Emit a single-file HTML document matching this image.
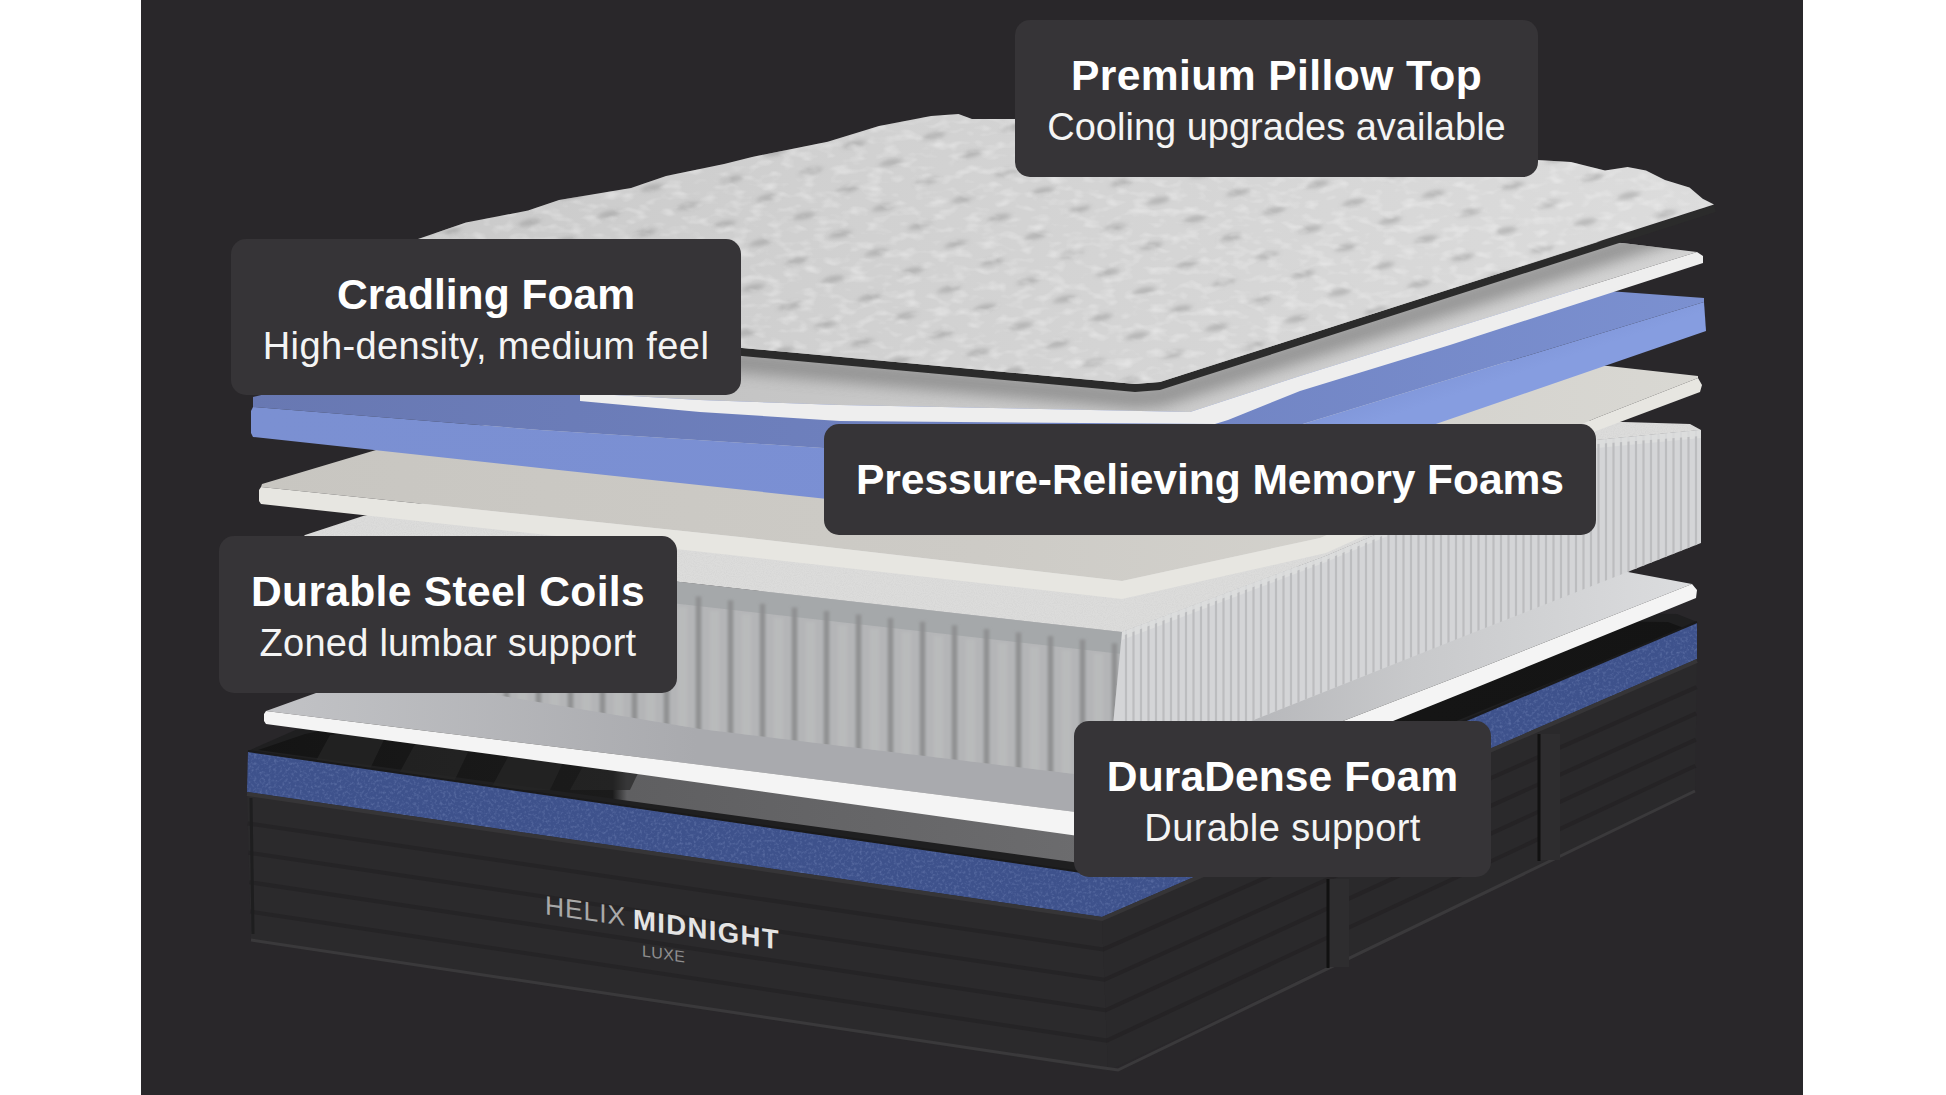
<!DOCTYPE html>
<html><head><meta charset="utf-8"><style>
html,body{margin:0;padding:0;background:#ffffff;width:1946px;height:1095px;overflow:hidden}
#panel{position:absolute;left:141px;top:0;width:1662px;height:1095px;background:#29272a}
svg{position:absolute;left:0;top:0}
</style></head><body>
<div id="panel"></div>
<svg width="1946" height="1095" viewBox="0 0 1946 1095">

<defs>
 <linearGradient id="gPillow" gradientUnits="userSpaceOnUse" x1="300" y1="250" x2="1714" y2="250">
  <stop offset="0" stop-color="#c8c8c8"/><stop offset="0.35" stop-color="#d0d0d0"/><stop offset="1" stop-color="#dcdcdc"/>
 </linearGradient>
 <pattern id="pTuft" patternUnits="userSpaceOnUse" width="80" height="44" patternTransform="rotate(-6) skewX(-15)">
  <g filter="url(#fBlur)"><path d="M4 14 Q17 6 30 12 Q20 19 4 14Z" fill="#8e8e8e" opacity="0.45"/>
  <path d="M44 36 Q57 28 70 34 Q60 41 44 36Z" fill="#8e8e8e" opacity="0.45"/></g>
 </pattern>
 <linearGradient id="gL2top" gradientUnits="userSpaceOnUse" x1="0" y1="0" x2="0" y2="1">
  <stop offset="0" stop-color="#999"/><stop offset="1" stop-color="#bbb"/>
 </linearGradient>
 <linearGradient id="gL2t" gradientUnits="userSpaceOnUse" x1="700" y1="0" x2="1700" y2="0">
  <stop offset="0" stop-color="#c4c4c4"/><stop offset="0.5" stop-color="#cdcdcd"/><stop offset="1" stop-color="#d4d4d4"/>
 </linearGradient>
 <linearGradient id="gCream" gradientUnits="userSpaceOnUse" x1="260" y1="0" x2="1700" y2="0">
  <stop offset="0" stop-color="#c8c6c1"/><stop offset="0.5" stop-color="#cdcbc6"/><stop offset="1" stop-color="#d9d8d3"/>
 </linearGradient>
 <linearGradient id="gBlueTop" gradientUnits="userSpaceOnUse" x1="250" y1="0" x2="1700" y2="0">
  <stop offset="0" stop-color="#6878b2"/><stop offset="0.6" stop-color="#7083c2"/><stop offset="1" stop-color="#7b90d0"/>
 </linearGradient>
 <linearGradient id="gBlueFL" gradientUnits="userSpaceOnUse" x1="250" y1="0" x2="1125" y2="0">
  <stop offset="0" stop-color="#7b90d2"/><stop offset="1" stop-color="#7a8fd4"/>
 </linearGradient>
 <linearGradient id="gBlueFR" gradientUnits="userSpaceOnUse" x1="1300" y1="380" x2="1320" y2="440">
  <stop offset="0" stop-color="#788dcf"/><stop offset="1" stop-color="#869de0"/>
 </linearGradient>
 <linearGradient id="gW6top" gradientUnits="userSpaceOnUse" x1="266" y1="0" x2="1700" y2="0">
  <stop offset="0" stop-color="#c2c3c6"/><stop offset="0.3" stop-color="#a9aaae"/><stop offset="0.6" stop-color="#a9aaae"/><stop offset="0.8" stop-color="#c8c9cb"/><stop offset="1" stop-color="#dcdddf"/>
 </linearGradient>
 <linearGradient id="gInterior" gradientUnits="userSpaceOnUse" x1="250" y1="0" x2="1700" y2="0">
  <stop offset="0" stop-color="#141414"/><stop offset="0.25" stop-color="#1b1b1b"/><stop offset="0.26" stop-color="#5f5f61"/><stop offset="0.58" stop-color="#6c6c6e"/><stop offset="0.62" stop-color="#161616"/><stop offset="1" stop-color="#141414"/>
 </linearGradient>
 <linearGradient id="gCoilFL" gradientUnits="userSpaceOnUse" x1="0" y1="560" x2="0" y2="760">
  <stop offset="0" stop-color="#cdcecf"/><stop offset="1" stop-color="#c3c4c6"/>
 </linearGradient>
 <filter id="fBlur" x="-50%" y="-50%" width="200%" height="200%"><feGaussianBlur stdDeviation="2.2"/></filter>
 <filter id="fBlur1" x="-50%" y="-10%" width="200%" height="120%"><feGaussianBlur stdDeviation="1.5"/></filter>
 <filter id="fBlur6" x="-20%" y="-50%" width="140%" height="200%"><feGaussianBlur stdDeviation="7"/></filter>
 <filter id="fMottle" x="0" y="0" width="100%" height="100%">
  <feTurbulence type="fractalNoise" baseFrequency="0.06 0.12" numOctaves="2" seed="8"/>
  <feColorMatrix values="0 0 0 0 1  0 0 0 0 1  0 0 0 0 1  0 0 0 2.5 -1.2"/>
  <feComposite in2="SourceGraphic" operator="in"/>
 </filter>
 <filter id="fNoise2" x="0" y="0" width="100%" height="100%">
  <feTurbulence type="fractalNoise" baseFrequency="0.35" numOctaves="2" seed="5"/>
  <feColorMatrix values="0 0 0 0 0.5  0 0 0 0 0.6  0 0 0 0 0.9  0 0 0 1.6 -0.75"/>
  <feComposite in2="SourceGraphic" operator="in"/>
 </filter>
 <filter id="fNoise" x="0" y="0" width="100%" height="100%">
  <feTurbulence type="fractalNoise" baseFrequency="0.9" numOctaves="2" seed="3"/>
  <feColorMatrix values="0 0 0 0 0.5  0 0 0 0 0.5  0 0 0 0 0.5  0 0 0 1.2 -0.45"/>
  <feComposite in2="SourceGraphic" operator="in"/>
 </filter>
</defs>

<polygon points="248.0,751.0 300.0,728.0 900.0,600.0 1677.0,614.0 1697.0,622.0 1102.0,875.0" fill="#1f1f20"/>
<polygon points="258.0,750.0 305.0,734.0 900.0,612.0 1668.0,622.0 1684.0,628.0 1102.0,866.0" fill="url(#gInterior)"/>
<polygon points="330.0,735.0 390.0,727.0 360.0,790.0 300.0,790.0" fill="#262627" opacity="0.7"/>
<polygon points="420.0,735.0 480.0,727.0 450.0,790.0 390.0,790.0" fill="#262627" opacity="0.7"/>
<polygon points="520.0,735.0 580.0,727.0 550.0,790.0 490.0,790.0" fill="#262627" opacity="0.7"/>
<polygon points="600.0,735.0 660.0,727.0 630.0,790.0 570.0,790.0" fill="#262627" opacity="0.7"/>
<polygon points="248.0,751.0 1102.0,875.0 1697.0,622.0 1697.0,659.0 1102.0,917.0 247.0,792.0" fill="#3e528c"/>
<polygon points="248.0,751.0 1102.0,875.0 1697.0,622.0 1697.0,659.0 1102.0,917.0 247.0,792.0" fill="#6a7fc0" filter="url(#fNoise2)" opacity="0.32"/>
<polyline points="248.0,751.0 1102.0,875.0 1697.0,622.0" fill="none" stroke="#1a1a1b" stroke-width="2"/>
<polygon points="247.0,794.0 1102.0,919.0 1108.0,1071.0 251.0,941.0" fill="#2b2a2c"/>
<polygon points="1102.0,919.0 1697.0,661.0 1695.0,792.0 1108.0,1071.0" fill="#2a292b"/>
<polyline points="247.8,823.4 1103.2,949.4 1696.6,687.2" fill="none" stroke="#1f1e20" stroke-width="4" opacity="0.5"/>
<polyline points="248.6,852.8 1104.4,979.8 1696.2,713.4" fill="none" stroke="#1f1e20" stroke-width="4" opacity="0.5"/>
<polyline points="249.4,882.2 1105.6,1010.2 1695.8,739.6" fill="none" stroke="#1f1e20" stroke-width="4" opacity="0.5"/>
<polyline points="250.2,911.6 1106.8,1040.6 1695.4,765.8" fill="none" stroke="#1f1e20" stroke-width="4" opacity="0.5"/>
<polyline points="247.0,794.0 1102.0,919.0 1697.0,661.0" fill="none" stroke="#363537" stroke-width="4"/>
<polyline points="251.0,798.0 253.0,934.0" fill="none" stroke="#1e1e1f" stroke-width="3"/>
<polyline points="251.0,940.0 1090.0,1066.0 1118.0,1070.0 1695.0,791.0" fill="none" stroke="#3a393b" stroke-width="3"/>
<rect x="1329" y="879" width="20" height="88" fill="#2e2d2f"/><line x1="1328" y1="879" x2="1328" y2="968" stroke="#111" stroke-width="3"/>
<rect x="1540" y="734" width="20" height="126" fill="#2e2d2f"/><line x1="1539" y1="734" x2="1539" y2="861" stroke="#111" stroke-width="3"/>
<g transform="translate(544,914) skewY(8.25)" font-family="Liberation Sans, sans-serif"><text x="1" y="0" font-size="26.5" letter-spacing="0.9" fill="#a9a9a9">HELIX</text><text x="89" y="1.5" font-size="27.5" font-weight="bold" letter-spacing="1.4" fill="#e4e4e4">MIDNIGHT</text><text x="98" y="28" font-size="16" letter-spacing="0.4" fill="#8f8f8f">LUXE</text></g>
<polygon points="266.0,711.0 316.0,693.0 900.0,560.0 1628.0,572.0 1692.0,584.0 1692.0,584.0 1480.0,668.0 1100.0,815.0 630.0,756.0 266.0,711.0" fill="url(#gW6top)"/>
<polygon points="266.0,711.0 630.0,756.0 1100.0,815.0 1480.0,668.0 1692.0,584.0 1697.0,590.0 1696.0,598.0 1480.0,686.0 1100.0,839.0 630.0,773.0 266.0,724.0 264.0,721.0 264.0,714.0" fill="#f4f4f4"/>
<polygon points="305.0,535.0 363.0,516.0 900.0,400.0 1690.0,424.0 1701.0,430.0 1597.0,440.0 1326.0,556.0 1122.0,632.0 680.0,582.0 300.0,540.0" fill="#dcdcdb"/>
<clipPath id="cCoilTop"><polygon points="305.0,535.0 363.0,516.0 900.0,400.0 1690.0,424.0 1701.0,430.0 1597.0,440.0 1326.0,556.0 1122.0,632.0 680.0,582.0 300.0,540.0"/></clipPath>
<polygon points="305.0,535.0 363.0,516.0 900.0,400.0 1690.0,424.0 1701.0,430.0 1597.0,440.0 1326.0,556.0 1122.0,632.0 680.0,582.0 300.0,540.0" fill="#888" filter="url(#fNoise)" opacity="0.35"/>
<polygon points="300.0,540.0 680.0,582.0 1122.0,632.0 1108.0,778.0 700.0,729.0 472.0,691.0 300.0,668.0" fill="#b4b5b7"/>
<clipPath id="cCoilFL"><polygon points="300.0,540.0 680.0,582.0 1122.0,632.0 1108.0,778.0 700.0,729.0 472.0,691.0 300.0,668.0"/></clipPath><g clip-path="url(#cCoilFL)">
<polygon points="300.0,540.0 680.0,582.0 1122.0,632.0 1122.0,654.0 680.0,604.0 300.0,562.0" fill="#a5a8aa"/>
<g filter="url(#fBlur1)">
<line x1="250.5" y1="546.5" x2="250.5" y2="800" stroke="#8f9092" stroke-width="5.5"/>
<line x1="266.5" y1="560.5" x2="266.5" y2="800" stroke="#bdbebf" stroke-width="10" opacity="0.6"/>
<line x1="282.5" y1="550.0" x2="282.5" y2="800" stroke="#8f9092" stroke-width="5.5"/>
<line x1="298.5" y1="564.0" x2="298.5" y2="800" stroke="#bdbebf" stroke-width="10" opacity="0.6"/>
<line x1="314.5" y1="553.6" x2="314.5" y2="800" stroke="#8f9092" stroke-width="5.5"/>
<line x1="330.5" y1="567.6" x2="330.5" y2="800" stroke="#bdbebf" stroke-width="10" opacity="0.6"/>
<line x1="346.5" y1="557.2" x2="346.5" y2="800" stroke="#8f9092" stroke-width="5.5"/>
<line x1="362.5" y1="571.2" x2="362.5" y2="800" stroke="#bdbebf" stroke-width="10" opacity="0.6"/>
<line x1="378.5" y1="560.8" x2="378.5" y2="800" stroke="#8f9092" stroke-width="5.5"/>
<line x1="394.5" y1="574.8" x2="394.5" y2="800" stroke="#bdbebf" stroke-width="10" opacity="0.6"/>
<line x1="410.5" y1="564.4" x2="410.5" y2="800" stroke="#8f9092" stroke-width="5.5"/>
<line x1="426.5" y1="578.4" x2="426.5" y2="800" stroke="#bdbebf" stroke-width="10" opacity="0.6"/>
<line x1="442.5" y1="568.0" x2="442.5" y2="800" stroke="#8f9092" stroke-width="5.5"/>
<line x1="458.5" y1="582.0" x2="458.5" y2="800" stroke="#bdbebf" stroke-width="10" opacity="0.6"/>
<line x1="474.5" y1="571.5" x2="474.5" y2="800" stroke="#8f9092" stroke-width="5.5"/>
<line x1="490.5" y1="585.5" x2="490.5" y2="800" stroke="#bdbebf" stroke-width="10" opacity="0.6"/>
<line x1="506.5" y1="575.1" x2="506.5" y2="800" stroke="#8f9092" stroke-width="5.5"/>
<line x1="522.5" y1="589.1" x2="522.5" y2="800" stroke="#bdbebf" stroke-width="10" opacity="0.6"/>
<line x1="538.5" y1="578.7" x2="538.5" y2="800" stroke="#8f9092" stroke-width="5.5"/>
<line x1="554.5" y1="592.7" x2="554.5" y2="800" stroke="#bdbebf" stroke-width="10" opacity="0.6"/>
<line x1="570.5" y1="582.3" x2="570.5" y2="800" stroke="#8f9092" stroke-width="5.5"/>
<line x1="586.5" y1="596.3" x2="586.5" y2="800" stroke="#bdbebf" stroke-width="10" opacity="0.6"/>
<line x1="602.5" y1="585.9" x2="602.5" y2="800" stroke="#8f9092" stroke-width="5.5"/>
<line x1="618.5" y1="599.9" x2="618.5" y2="800" stroke="#bdbebf" stroke-width="10" opacity="0.6"/>
<line x1="634.5" y1="589.5" x2="634.5" y2="800" stroke="#8f9092" stroke-width="5.5"/>
<line x1="650.5" y1="603.5" x2="650.5" y2="800" stroke="#bdbebf" stroke-width="10" opacity="0.6"/>
<line x1="666.5" y1="593.0" x2="666.5" y2="800" stroke="#8f9092" stroke-width="5.5"/>
<line x1="682.5" y1="607.0" x2="682.5" y2="800" stroke="#bdbebf" stroke-width="10" opacity="0.6"/>
<line x1="698.5" y1="596.6" x2="698.5" y2="800" stroke="#8f9092" stroke-width="5.5"/>
<line x1="714.5" y1="610.6" x2="714.5" y2="800" stroke="#bdbebf" stroke-width="10" opacity="0.6"/>
<line x1="730.5" y1="600.2" x2="730.5" y2="800" stroke="#8f9092" stroke-width="5.5"/>
<line x1="746.5" y1="614.2" x2="746.5" y2="800" stroke="#bdbebf" stroke-width="10" opacity="0.6"/>
<line x1="762.5" y1="603.8" x2="762.5" y2="800" stroke="#8f9092" stroke-width="5.5"/>
<line x1="778.5" y1="617.8" x2="778.5" y2="800" stroke="#bdbebf" stroke-width="10" opacity="0.6"/>
<line x1="794.5" y1="607.4" x2="794.5" y2="800" stroke="#8f9092" stroke-width="5.5"/>
<line x1="810.5" y1="621.4" x2="810.5" y2="800" stroke="#bdbebf" stroke-width="10" opacity="0.6"/>
<line x1="826.5" y1="611.0" x2="826.5" y2="800" stroke="#8f9092" stroke-width="5.5"/>
<line x1="842.5" y1="625.0" x2="842.5" y2="800" stroke="#bdbebf" stroke-width="10" opacity="0.6"/>
<line x1="858.5" y1="614.6" x2="858.5" y2="800" stroke="#8f9092" stroke-width="5.5"/>
<line x1="874.5" y1="628.6" x2="874.5" y2="800" stroke="#bdbebf" stroke-width="10" opacity="0.6"/>
<line x1="890.5" y1="618.1" x2="890.5" y2="800" stroke="#8f9092" stroke-width="5.5"/>
<line x1="906.5" y1="632.1" x2="906.5" y2="800" stroke="#bdbebf" stroke-width="10" opacity="0.6"/>
<line x1="922.5" y1="621.7" x2="922.5" y2="800" stroke="#8f9092" stroke-width="5.5"/>
<line x1="938.5" y1="635.7" x2="938.5" y2="800" stroke="#bdbebf" stroke-width="10" opacity="0.6"/>
<line x1="954.5" y1="625.3" x2="954.5" y2="800" stroke="#8f9092" stroke-width="5.5"/>
<line x1="970.5" y1="639.3" x2="970.5" y2="800" stroke="#bdbebf" stroke-width="10" opacity="0.6"/>
<line x1="986.5" y1="628.9" x2="986.5" y2="800" stroke="#8f9092" stroke-width="5.5"/>
<line x1="1002.5" y1="642.9" x2="1002.5" y2="800" stroke="#bdbebf" stroke-width="10" opacity="0.6"/>
<line x1="1018.5" y1="632.5" x2="1018.5" y2="800" stroke="#8f9092" stroke-width="5.5"/>
<line x1="1034.5" y1="646.5" x2="1034.5" y2="800" stroke="#bdbebf" stroke-width="10" opacity="0.6"/>
<line x1="1050.5" y1="636.1" x2="1050.5" y2="800" stroke="#8f9092" stroke-width="5.5"/>
<line x1="1066.5" y1="650.1" x2="1066.5" y2="800" stroke="#bdbebf" stroke-width="10" opacity="0.6"/>
<line x1="1082.5" y1="639.6" x2="1082.5" y2="800" stroke="#8f9092" stroke-width="5.5"/>
<line x1="1098.5" y1="653.6" x2="1098.5" y2="800" stroke="#bdbebf" stroke-width="10" opacity="0.6"/>
<line x1="1114.5" y1="643.2" x2="1114.5" y2="800" stroke="#8f9092" stroke-width="5.5"/>
<line x1="1130.5" y1="657.2" x2="1130.5" y2="800" stroke="#bdbebf" stroke-width="10" opacity="0.6"/>
</g></g>
<polygon points="1122.0,632.0 1326.0,556.0 1597.0,440.0 1701.0,430.0 1701.0,543.0 1480.0,630.0 1108.0,778.0" fill="#d4d5d7"/>
<clipPath id="cCoilFR"><polygon points="1122.0,632.0 1326.0,556.0 1597.0,440.0 1701.0,430.0 1701.0,543.0 1480.0,630.0 1108.0,778.0"/></clipPath><g clip-path="url(#cCoilFR)">
<polygon points="1122.0,606.0 1326.0,530.0 1597.0,418.0 1701.0,410.0 1701.0,438.0 1597.0,448.0 1326.0,562.0 1122.0,640.0" fill="#dcdddd"/>
<line x1="1126.0" y1="400" x2="1126.0" y2="800" stroke="#bcbdbf" stroke-width="2.2"/>
<line x1="1133.5" y1="400" x2="1133.5" y2="800" stroke="#bcbdbf" stroke-width="2.2"/>
<line x1="1141.0" y1="400" x2="1141.0" y2="800" stroke="#bcbdbf" stroke-width="2.2"/>
<line x1="1148.5" y1="400" x2="1148.5" y2="800" stroke="#bcbdbf" stroke-width="2.2"/>
<line x1="1156.0" y1="400" x2="1156.0" y2="800" stroke="#bcbdbf" stroke-width="2.2"/>
<line x1="1163.5" y1="400" x2="1163.5" y2="800" stroke="#bcbdbf" stroke-width="2.2"/>
<line x1="1171.0" y1="400" x2="1171.0" y2="800" stroke="#bcbdbf" stroke-width="2.2"/>
<line x1="1178.5" y1="400" x2="1178.5" y2="800" stroke="#bcbdbf" stroke-width="2.2"/>
<line x1="1186.0" y1="400" x2="1186.0" y2="800" stroke="#bcbdbf" stroke-width="2.2"/>
<line x1="1193.5" y1="400" x2="1193.5" y2="800" stroke="#bcbdbf" stroke-width="2.2"/>
<line x1="1201.0" y1="400" x2="1201.0" y2="800" stroke="#bcbdbf" stroke-width="2.2"/>
<line x1="1208.5" y1="400" x2="1208.5" y2="800" stroke="#bcbdbf" stroke-width="2.2"/>
<line x1="1216.0" y1="400" x2="1216.0" y2="800" stroke="#bcbdbf" stroke-width="2.2"/>
<line x1="1223.5" y1="400" x2="1223.5" y2="800" stroke="#bcbdbf" stroke-width="2.2"/>
<line x1="1231.0" y1="400" x2="1231.0" y2="800" stroke="#bcbdbf" stroke-width="2.2"/>
<line x1="1238.5" y1="400" x2="1238.5" y2="800" stroke="#bcbdbf" stroke-width="2.2"/>
<line x1="1246.0" y1="400" x2="1246.0" y2="800" stroke="#bcbdbf" stroke-width="2.2"/>
<line x1="1253.5" y1="400" x2="1253.5" y2="800" stroke="#bcbdbf" stroke-width="2.2"/>
<line x1="1261.0" y1="400" x2="1261.0" y2="800" stroke="#bcbdbf" stroke-width="2.2"/>
<line x1="1268.5" y1="400" x2="1268.5" y2="800" stroke="#bcbdbf" stroke-width="2.2"/>
<line x1="1276.0" y1="400" x2="1276.0" y2="800" stroke="#bcbdbf" stroke-width="2.2"/>
<line x1="1283.5" y1="400" x2="1283.5" y2="800" stroke="#bcbdbf" stroke-width="2.2"/>
<line x1="1291.0" y1="400" x2="1291.0" y2="800" stroke="#bcbdbf" stroke-width="2.2"/>
<line x1="1298.5" y1="400" x2="1298.5" y2="800" stroke="#bcbdbf" stroke-width="2.2"/>
<line x1="1306.0" y1="400" x2="1306.0" y2="800" stroke="#bcbdbf" stroke-width="2.2"/>
<line x1="1313.5" y1="400" x2="1313.5" y2="800" stroke="#bcbdbf" stroke-width="2.2"/>
<line x1="1321.0" y1="400" x2="1321.0" y2="800" stroke="#bcbdbf" stroke-width="2.2"/>
<line x1="1328.5" y1="400" x2="1328.5" y2="800" stroke="#bcbdbf" stroke-width="2.2"/>
<line x1="1336.0" y1="400" x2="1336.0" y2="800" stroke="#bcbdbf" stroke-width="2.2"/>
<line x1="1343.5" y1="400" x2="1343.5" y2="800" stroke="#bcbdbf" stroke-width="2.2"/>
<line x1="1351.0" y1="400" x2="1351.0" y2="800" stroke="#bcbdbf" stroke-width="2.2"/>
<line x1="1358.5" y1="400" x2="1358.5" y2="800" stroke="#bcbdbf" stroke-width="2.2"/>
<line x1="1366.0" y1="400" x2="1366.0" y2="800" stroke="#bcbdbf" stroke-width="2.2"/>
<line x1="1373.5" y1="400" x2="1373.5" y2="800" stroke="#bcbdbf" stroke-width="2.2"/>
<line x1="1381.0" y1="400" x2="1381.0" y2="800" stroke="#bcbdbf" stroke-width="2.2"/>
<line x1="1388.5" y1="400" x2="1388.5" y2="800" stroke="#bcbdbf" stroke-width="2.2"/>
<line x1="1396.0" y1="400" x2="1396.0" y2="800" stroke="#bcbdbf" stroke-width="2.2"/>
<line x1="1403.5" y1="400" x2="1403.5" y2="800" stroke="#bcbdbf" stroke-width="2.2"/>
<line x1="1411.0" y1="400" x2="1411.0" y2="800" stroke="#bcbdbf" stroke-width="2.2"/>
<line x1="1418.5" y1="400" x2="1418.5" y2="800" stroke="#bcbdbf" stroke-width="2.2"/>
<line x1="1426.0" y1="400" x2="1426.0" y2="800" stroke="#bcbdbf" stroke-width="2.2"/>
<line x1="1433.5" y1="400" x2="1433.5" y2="800" stroke="#bcbdbf" stroke-width="2.2"/>
<line x1="1441.0" y1="400" x2="1441.0" y2="800" stroke="#bcbdbf" stroke-width="2.2"/>
<line x1="1448.5" y1="400" x2="1448.5" y2="800" stroke="#bcbdbf" stroke-width="2.2"/>
<line x1="1456.0" y1="400" x2="1456.0" y2="800" stroke="#bcbdbf" stroke-width="2.2"/>
<line x1="1463.5" y1="400" x2="1463.5" y2="800" stroke="#bcbdbf" stroke-width="2.2"/>
<line x1="1471.0" y1="400" x2="1471.0" y2="800" stroke="#bcbdbf" stroke-width="2.2"/>
<line x1="1478.5" y1="400" x2="1478.5" y2="800" stroke="#bcbdbf" stroke-width="2.2"/>
<line x1="1486.0" y1="400" x2="1486.0" y2="800" stroke="#bcbdbf" stroke-width="2.2"/>
<line x1="1493.5" y1="400" x2="1493.5" y2="800" stroke="#bcbdbf" stroke-width="2.2"/>
<line x1="1501.0" y1="400" x2="1501.0" y2="800" stroke="#bcbdbf" stroke-width="2.2"/>
<line x1="1508.5" y1="400" x2="1508.5" y2="800" stroke="#bcbdbf" stroke-width="2.2"/>
<line x1="1516.0" y1="400" x2="1516.0" y2="800" stroke="#bcbdbf" stroke-width="2.2"/>
<line x1="1523.5" y1="400" x2="1523.5" y2="800" stroke="#bcbdbf" stroke-width="2.2"/>
<line x1="1531.0" y1="400" x2="1531.0" y2="800" stroke="#bcbdbf" stroke-width="2.2"/>
<line x1="1538.5" y1="400" x2="1538.5" y2="800" stroke="#bcbdbf" stroke-width="2.2"/>
<line x1="1546.0" y1="400" x2="1546.0" y2="800" stroke="#bcbdbf" stroke-width="2.2"/>
<line x1="1553.5" y1="400" x2="1553.5" y2="800" stroke="#bcbdbf" stroke-width="2.2"/>
<line x1="1561.0" y1="400" x2="1561.0" y2="800" stroke="#bcbdbf" stroke-width="2.2"/>
<line x1="1568.5" y1="400" x2="1568.5" y2="800" stroke="#bcbdbf" stroke-width="2.2"/>
<line x1="1576.0" y1="400" x2="1576.0" y2="800" stroke="#bcbdbf" stroke-width="2.2"/>
<line x1="1583.5" y1="400" x2="1583.5" y2="800" stroke="#bcbdbf" stroke-width="2.2"/>
<line x1="1591.0" y1="400" x2="1591.0" y2="800" stroke="#bcbdbf" stroke-width="2.2"/>
<line x1="1598.5" y1="400" x2="1598.5" y2="800" stroke="#bcbdbf" stroke-width="2.2"/>
<line x1="1606.0" y1="400" x2="1606.0" y2="800" stroke="#bcbdbf" stroke-width="2.2"/>
<line x1="1613.5" y1="400" x2="1613.5" y2="800" stroke="#bcbdbf" stroke-width="2.2"/>
<line x1="1621.0" y1="400" x2="1621.0" y2="800" stroke="#bcbdbf" stroke-width="2.2"/>
<line x1="1628.5" y1="400" x2="1628.5" y2="800" stroke="#bcbdbf" stroke-width="2.2"/>
<line x1="1636.0" y1="400" x2="1636.0" y2="800" stroke="#bcbdbf" stroke-width="2.2"/>
<line x1="1643.5" y1="400" x2="1643.5" y2="800" stroke="#bcbdbf" stroke-width="2.2"/>
<line x1="1651.0" y1="400" x2="1651.0" y2="800" stroke="#bcbdbf" stroke-width="2.2"/>
<line x1="1658.5" y1="400" x2="1658.5" y2="800" stroke="#bcbdbf" stroke-width="2.2"/>
<line x1="1666.0" y1="400" x2="1666.0" y2="800" stroke="#bcbdbf" stroke-width="2.2"/>
<line x1="1673.5" y1="400" x2="1673.5" y2="800" stroke="#bcbdbf" stroke-width="2.2"/>
<line x1="1681.0" y1="400" x2="1681.0" y2="800" stroke="#bcbdbf" stroke-width="2.2"/>
<line x1="1688.5" y1="400" x2="1688.5" y2="800" stroke="#bcbdbf" stroke-width="2.2"/>
<line x1="1696.0" y1="400" x2="1696.0" y2="800" stroke="#bcbdbf" stroke-width="2.2"/>
<polygon points="1122.0,600.0 1326.0,524.0 1597.0,412.0 1701.0,404.0 1701.0,436.0 1597.0,444.0 1326.0,560.0 1122.0,636.0" fill="#dcdddd" opacity="0.85"/>
</g>
<polygon points="262.0,484.0 376.0,450.0 900.0,330.0 1608.0,366.0 1698.0,376.0 1698.0,378.0 1596.0,418.0 1320.0,538.0 1122.0,581.0 740.0,537.0 540.0,516.0 261.0,487.0" fill="url(#gCream)"/>
<polygon points="261.0,487.0 540.0,516.0 740.0,537.0 1122.0,581.0 1320.0,538.0 1596.0,418.0 1698.0,378.0 1702.0,385.0 1700.0,392.0 1596.0,431.0 1326.0,553.0 1122.0,599.0 740.0,556.0 261.0,504.0 259.0,501.0 259.0,490.0" fill="#e7e6e1"/>
<polygon points="253.0,397.0 903.0,244.0 1622.0,292.0 1704.0,298.0 1704.0,302.0 1125.0,478.0 823.0,448.0 540.0,430.0 253.0,407.0" fill="url(#gBlueTop)"/>
<polygon points="253.0,407.0 540.0,430.0 823.0,448.0 1125.0,478.0 1125.0,531.0 540.0,468.0 253.0,437.0 251.0,433.0 251.0,411.0" fill="url(#gBlueFL)"/>
<polygon points="1125.0,478.0 1704.0,302.0 1706.0,331.0 1125.0,531.0" fill="url(#gBlueFR)"/>
<polygon points="580.0,300.0 900.0,200.0 1622.0,243.0 1697.0,252.0 1300.0,376.0 1190.0,412.0 840.0,405.0 700.0,400.0 580.0,393.0" fill="url(#gL2t)"/>
<clipPath id="cL2"><polygon points="580.0,300.0 900.0,200.0 1622.0,243.0 1697.0,252.0 1300.0,376.0 1190.0,412.0 840.0,405.0 700.0,400.0 580.0,393.0"/></clipPath>
<g clip-path="url(#cL2)"><polyline points="560.0,362.0 742.0,362.0 1135.0,398.0 1160.0,396.0 1716.0,218.0" fill="none" stroke="#8f8f8f" stroke-width="22" filter="url(#fBlur6)" opacity="0.9"/></g>
<polygon points="580.0,393.0 700.0,400.0 840.0,405.0 1190.0,412.0 1300.0,376.0 1697.0,252.0 1703.0,256.0 1703.0,263.0 1450.0,345.0 1300.0,391.0 1228.0,420.0 1215.0,424.0 840.0,421.0 700.0,412.0 580.0,401.0" fill="#eeeeee"/>
<polygon points="1714.0,205.0 1160.0,382.0 1135.0,384.0 742.0,348.0 300.0,305.0 300.0,312.0 742.0,356.0 1135.0,392.0 1160.0,390.0 1716.0,212.0" fill="#2b2b2b"/>
<polygon points="300.0,300.0 330.0,268.0 421.0,238.0 466.0,222.6 528.0,210.5 559.0,200.0 631.0,188.0 666.0,176.0 724.0,164.0 752.0,157.0 827.6,141.7 879.0,126.0 931.0,116.0 958.5,114.0 972.0,119.0 1015.0,119.0 1537.0,160.0 1571.0,162.0 1605.0,170.6 1627.6,167.0 1646.0,170.6 1665.0,180.0 1689.5,187.5 1702.7,198.8 1714.0,204.4 1160.0,382.0 1135.0,384.0 742.0,348.0 300.0,305.0" fill="url(#gPillow)"/>
<polygon points="300.0,300.0 330.0,268.0 421.0,238.0 466.0,222.6 528.0,210.5 559.0,200.0 631.0,188.0 666.0,176.0 724.0,164.0 752.0,157.0 827.6,141.7 879.0,126.0 931.0,116.0 958.5,114.0 972.0,119.0 1015.0,119.0 1537.0,160.0 1571.0,162.0 1605.0,170.6 1627.6,167.0 1646.0,170.6 1665.0,180.0 1689.5,187.5 1702.7,198.8 1714.0,204.4 1160.0,382.0 1135.0,384.0 742.0,348.0 300.0,305.0" fill="url(#pTuft)"/>
<polygon points="300.0,300.0 330.0,268.0 421.0,238.0 466.0,222.6 528.0,210.5 559.0,200.0 631.0,188.0 666.0,176.0 724.0,164.0 752.0,157.0 827.6,141.7 879.0,126.0 931.0,116.0 958.5,114.0 972.0,119.0 1015.0,119.0 1537.0,160.0 1571.0,162.0 1605.0,170.6 1627.6,167.0 1646.0,170.6 1665.0,180.0 1689.5,187.5 1702.7,198.8 1714.0,204.4 1160.0,382.0 1135.0,384.0 742.0,348.0 300.0,305.0" fill="#fff" filter="url(#fMottle)" opacity="0.35"/>
<rect x="1015" y="20" width="523" height="157" rx="15" fill="#363437"/>
<text x="1276.5" y="89.5" text-anchor="middle" font-family="Liberation Sans, sans-serif" font-weight="bold" font-size="42.6" letter-spacing="0.4" fill="#ffffff">Premium Pillow Top</text>
<text x="1276.5" y="139.5" text-anchor="middle" font-family="Liberation Sans, sans-serif" font-size="38" letter-spacing="0.0" fill="#f4f4f4">Cooling upgrades available</text>
<rect x="231" y="239" width="510" height="156" rx="15" fill="#363437"/>
<text x="486.0" y="308.5" text-anchor="middle" font-family="Liberation Sans, sans-serif" font-weight="bold" font-size="42.6" letter-spacing="0.0" fill="#ffffff">Cradling Foam</text>
<text x="486.0" y="358.5" text-anchor="middle" font-family="Liberation Sans, sans-serif" font-size="38" letter-spacing="0.4" fill="#f4f4f4">High-density, medium feel</text>
<rect x="824" y="424" width="772" height="111" rx="15" fill="#363437"/>
<text x="1210.0" y="493.5" text-anchor="middle" font-family="Liberation Sans, sans-serif" font-weight="bold" font-size="42.6" letter-spacing="-0.07" fill="#ffffff">Pressure-Relieving Memory Foams</text>
<rect x="219" y="536" width="458" height="157" rx="15" fill="#363437"/>
<text x="448.0" y="605.5" text-anchor="middle" font-family="Liberation Sans, sans-serif" font-weight="bold" font-size="42.6" letter-spacing="0.3" fill="#ffffff">Durable Steel Coils</text>
<text x="448.0" y="655.5" text-anchor="middle" font-family="Liberation Sans, sans-serif" font-size="38" letter-spacing="0.25" fill="#f4f4f4">Zoned lumbar support</text>
<rect x="1074" y="721" width="417" height="156" rx="15" fill="#363437"/>
<text x="1282.5" y="790.5" text-anchor="middle" font-family="Liberation Sans, sans-serif" font-weight="bold" font-size="42.6" letter-spacing="0.07" fill="#ffffff">DuraDense Foam</text>
<text x="1282.5" y="840.5" text-anchor="middle" font-family="Liberation Sans, sans-serif" font-size="38" letter-spacing="0.4" fill="#f4f4f4">Durable support</text>
</svg>
</body></html>
